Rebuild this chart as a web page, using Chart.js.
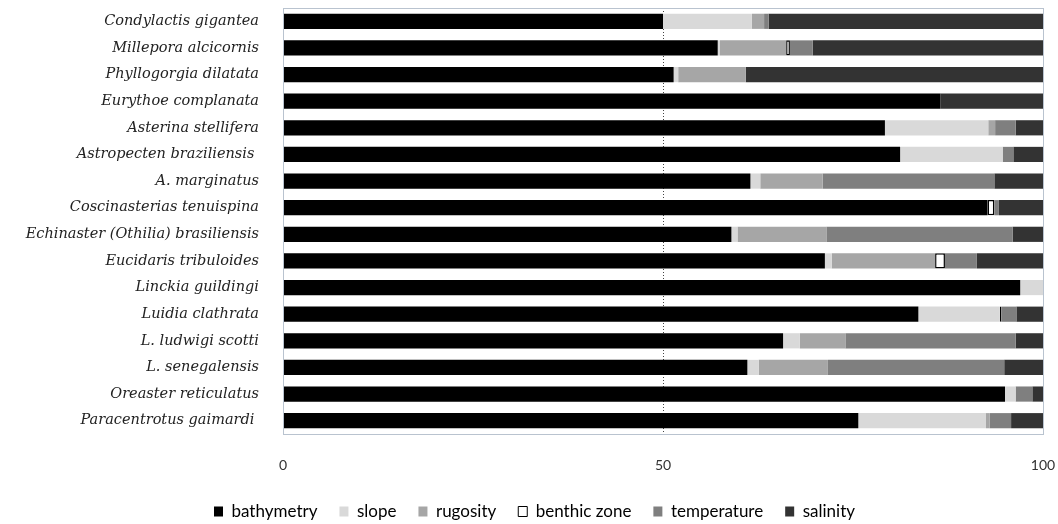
<!DOCTYPE html>
<html>
<head>
<meta charset="utf-8">
<script src="https://cdn.jsdelivr.net/npm/chart.js@4/dist/chart.umd.min.js"></script>
<style>
  html, body { margin: 0; padding: 0; background: #fff; }
  #wrap { width: 1058px; height: 524px; }
</style>
</head>
<body>
<div id="wrap"><canvas id="myChart"></canvas></div>
<script>
// species (top to bottom)
const species = [
  'Condylactis gigantea', 'Millepora alcicornis', 'Phyllogorgia dilatata',
  'Eurythoe complanata', 'Asterina stellifera', 'Astropecten braziliensis ',
  'A. marginatus', 'Coscinasterias tenuispina', 'Echinaster (Othilia) brasiliensis',
  'Eucidaris tribuloides', 'Linckia guildingi', 'Luidia clathrata',
  'L. ludwigi scotti', 'L. senegalensis', 'Oreaster reticulatus', 'Paracentrotus gaimardi '
];

// contribution (%) of each variable
const bathymetry  = [50.0, 57.2, 51.4, 86.5, 79.2, 81.2, 61.5, 92.7, 59.0, 71.3, 97.0, 83.6, 65.8, 61.1, 95.0, 75.7];
const slope       = [11.7, 0.3,  0.6,  null, 13.6, 13.5, 1.3,  null, 0.8,  0.9,  3.0,  10.7, 2.2,  1.5,  1.4,  16.8];
const rugosity    = [1.6,  8.7,  8.9,  null, 0.9,  null, 8.2,  null, 11.7, 13.6, null, null, 6.0,  9.1,  null, 0.5];
const benthicZone = [null, 0.5,  null, null, null, null, null, 0.9,  null, 1.3,  null, 0.2,  null, null, null, null];
const temperature = [0.6,  3.0,  null, null, 2.7,  1.4,  22.6, 0.6,  24.5, 4.2,  null, 2.0,  22.4, 23.2, 2.2,  2.8];
const salinity    = [36.1, 30.3, 39.1, 13.5, 3.6,  3.9,  6.4,  5.8,  4.0,  8.7,  null, 3.5,  3.6,  5.1,  1.4,  4.2];

const xTicks = [0, 50, 100];

// light frame around the plot area
const frame = {
  id: 'frame',
  afterDatasetsDraw(chart) {
    const a = chart.chartArea, c = chart.ctx;
    c.save();
    c.strokeStyle = '#b9c3cf';
    c.lineWidth = 1;
    c.strokeRect(a.left + 0.5, a.top + 0.5, a.right - a.left, a.bottom - a.top);
    c.restore();
  }
};

// nudge the legend down and to the right
const legendShift = {
  id: 'legendShift',
  afterLayout(chart) {
    const lg = chart.legend;
    if (!lg) return;
    lg.top += 6; lg.bottom += 6;
    lg.left += 13; lg.right += 13;
    if (lg.legendHitBoxes) lg.legendHitBoxes.forEach(h => { h.top += 6; h.left += 13; });
  }
};

function ds(label, data, color, border) {
  return {
    label: label,
    data: data,
    backgroundColor: color,
    borderColor: border ? '#000' : color,
    borderWidth: border ? 1.5 : 0,
    borderSkipped: false,
    barPercentage: 0.57,
    categoryPercentage: 1
  };
}

const config = {
  type: 'bar',
  data: {
    labels: species,
    datasets: [
      ds('bathymetry', bathymetry, '#000000'),
      ds('slope', slope, '#d9d9d9'),
      ds('rugosity', rugosity, '#a6a6a6'),
      ds('benthic zone', benthicZone, '#ffffff', true),
      ds('temperature', temperature, '#7f7f7f'),
      ds('salinity', salinity, '#333333')
    ]
  },
  options: {
    indexAxis: 'y',
    responsive: true,
    maintainAspectRatio: false,
    animation: false,
    layout: { padding: { top: 8, right: 15, bottom: 0, left: 0 } },
    scales: {
      x: {
        stacked: true,
        min: 0,
        max: 100,
        afterBuildTicks: (s) => { s.ticks = xTicks.map(v => ({ value: v })); },
        afterFit: (s) => { s.paddingLeft = 0; s.paddingRight = 0; s.height = 41; },
        ticks: {
          padding: 23,
          autoSkip: false,
          maxRotation: 0,
          color: '#333',
          font: { family: 'Lato', size: 14 }
        },
        grid: {
          drawTicks: false,
          color: (ctx) => ctx.tick && ctx.tick.value === 50 ? '#444' : 'rgba(0,0,0,0)'
        },
        border: { display: false, dash: [1, 2] }
      },
      y: {
        stacked: true,
        afterFit: (s) => { s.width = 283; s.paddingTop = 0; s.paddingBottom = 0; },
        ticks: {
          padding: 16,
          color: '#222',
          font: { family: 'DejaVu Serif', style: 'italic', size: 14.5 }
        },
        grid: { display: false },
        border: { display: false }
      }
    },
    plugins: {
      legend: {
        position: 'bottom',
        labels: {
          boxWidth: 9,
          boxHeight: 10,
          padding: 22,
          color: '#222',
          font: { family: 'Lato', size: 17 },
          generateLabels: (chart) => chart.data.datasets.map((d, i) => ({
            text: d.label,
            fillStyle: d.backgroundColor,
            strokeStyle: '#000',
            lineWidth: d.label === 'benthic zone' ? 1 : 0,
            datasetIndex: i
          }))
        }
      },
      tooltip: { enabled: false }
    }
  },
  plugins: [frame, legendShift]
};

new Chart(document.getElementById('myChart'), config);
</script>
</body>
</html>
